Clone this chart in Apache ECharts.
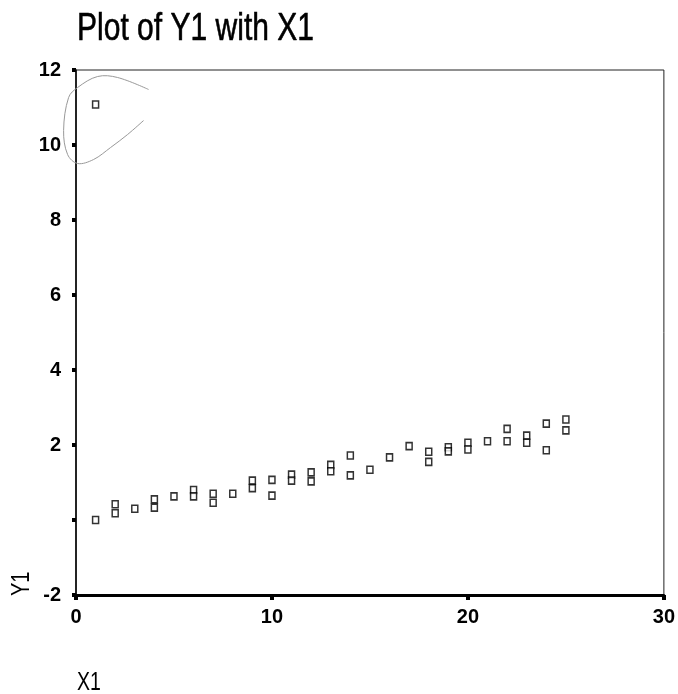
<!DOCTYPE html>
<html>
<head>
<meta charset="utf-8">
<script src="https://cdn.jsdelivr.net/npm/echarts@6/dist/echarts.min.js"></script>
<style>
html,body{margin:0;padding:0;background:#fff;}
#chart{width:678px;height:694px;}
</style>
</head>
<body>
<div id="chart"></div>
<script>
const titleText = 'Plot of Y1 with X1';
const xName = 'X1';
const yName = 'Y1';
const xTicks = [0, 10, 20, 30];
const yTicks = [-2, 0, 2, 4, 6, 8, 10, 12];
const xValues = [1, 1, 2, 2, 3, 4, 4, 5, 6, 6, 7, 7, 8, 9, 9, 10, 10, 11, 11, 12, 12, 13, 13, 14, 14, 15, 16, 17, 18, 18, 19, 19, 20, 20, 21, 22, 22, 23, 23, 24, 24, 25, 25];
const yValues = [11.08, 0.0, 0.42, 0.18, 0.30, 0.55, 0.33, 0.63, 0.80, 0.63, 0.70, 0.46, 0.70, 1.05, 0.85, 1.07, 0.65, 1.21, 1.05, 1.27, 1.03, 1.47, 1.30, 1.72, 1.19, 1.34, 1.67, 1.97, 1.82, 1.55, 1.94, 1.83, 2.06, 1.88, 2.10, 2.43, 2.10, 2.25, 2.06, 2.57, 1.86, 2.68, 2.39];
// hand-drawn loop around the outlier (pixel offsets from the point)
const loopOffsets = [[53,-15],[22,-27],[2,-28],[-18,-17],[-27,-7],[-32,26],[-28,50],[-18,59],[-2,55],[15,43],[32,30],[48,16]];

const points = xValues.map((x, i) => [x, yValues[i]]);
const outlierIndex = yValues.indexOf(Math.max.apply(null, yValues));
const outlier = points[outlierIndex];

const FONT = '"Liberation Sans", Arial, sans-serif';
const NARROW = '"Liberation Sans Narrow", "Liberation Sans", Arial, sans-serif';
const chart = echarts.init(document.getElementById('chart'), null, {renderer: 'canvas'});
chart.setOption({
  backgroundColor: '#fff',
  animation: false,
  grid: {left: 76, right: 10, top: 70, bottom: 99, show: true, borderColor: '#222', borderWidth: 1, backgroundColor: 'transparent'},
  xAxis: {
    type: 'value', min: xTicks[0], max: xTicks[xTicks.length - 1], interval: 10,
    splitLine: {show: false},
    axisLine: {onZero: false, lineStyle: {color: '#000', width: 3}},
    axisTick: {show: true, length: 5, lineStyle: {color: '#000', width: 4}},
    axisLabel: {color: '#000', fontSize: 20, fontWeight: 'bold', fontFamily: NARROW, margin: 12}
  },
  yAxis: {
    type: 'value', min: yTicks[0], max: yTicks[yTicks.length - 1], interval: 2,
    splitLine: {show: false},
    axisLine: {onZero: false, lineStyle: {color: '#000', width: 1.5}},
    axisTick: {show: true, length: 4, lineStyle: {color: '#000', width: 4}},
    axisLabel: {color: '#000', fontSize: 20, fontWeight: 'bold', fontFamily: NARROW, margin: 15,
      formatter: v => v === 0 ? '' : String(v)}
  },
  series: [
    {
      type: 'scatter',
      data: points,
      symbol: 'rect',
      symbolSize: [6, 7],
      itemStyle: {color: '#fff', borderColor: '#000', borderWidth: 1.6},
      z: 3
    },
    {
      type: 'custom',
      data: [outlier],
      silent: true,
      renderItem: function (params, api) {
        const c = api.coord([api.value(0), api.value(1)]);
        return {
          type: 'polyline',
          shape: {points: loopOffsets.map(o => [c[0] + o[0], c[1] + o[1]]), smooth: 0.35},
          style: {stroke: '#999', lineWidth: 1, fill: null}
        };
      },
      z: 2
    }
  ],
  graphic: [
    {type: 'text', x: 77, y: 29, scaleX: 0.77, style: {text: titleText, font: '39px ' + FONT, fill: '#000', stroke: '#000', lineWidth: 0.6, textVerticalAlign: 'middle', textAlign: 'left'}},
    {type: 'text', x: 77, y: 683, scaleX: 0.75, style: {text: xName, font: '26px ' + FONT, fill: '#000', textVerticalAlign: 'middle', textAlign: 'left'}},
    {type: 'text', x: 22, y: 596, rotation: Math.PI / 2, scaleX: 0.8, style: {text: yName, font: '25px ' + FONT, fill: '#000', textVerticalAlign: 'middle', textAlign: 'left'}}
  ]
});
</script>
</body>
</html>
